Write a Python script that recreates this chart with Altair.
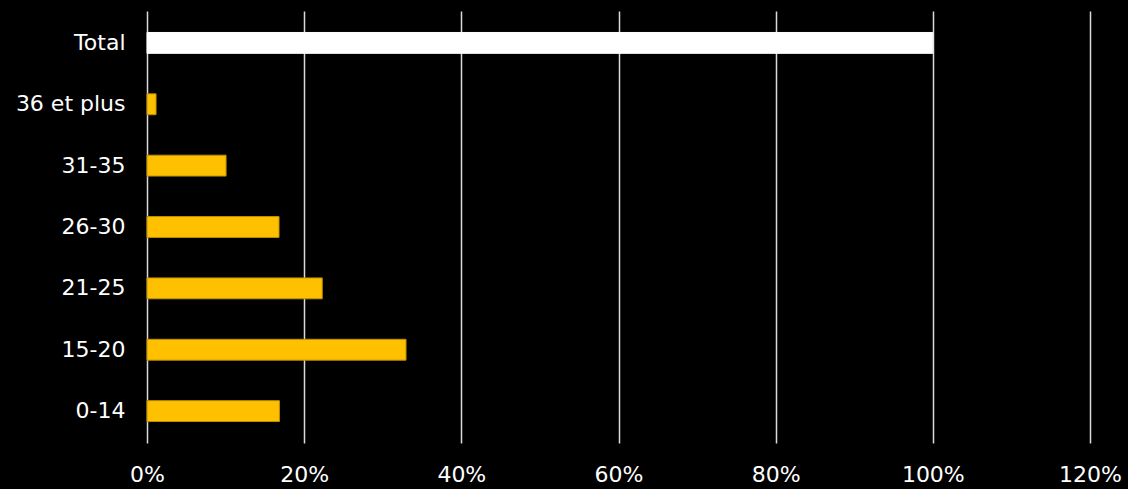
import altair as alt
import pandas as pd

categories = ["Total", "36 et plus", "31-35", "26-30", "21-25", "15-20", "0-14"]
values = [1.0, 0.0115, 0.1006, 0.168, 0.223, 0.3296, 0.1685]
colors = ["#FFFFFF", "#FFC000", "#FFC000", "#FFC000", "#FFC000", "#FFC000", "#FFC000"]
strokes = ["#FFFFFF", "#BF9000", "#BF9000", "#BF9000", "#BF9000", "#BF9000", "#BF9000"]

df = pd.DataFrame({"cat": categories, "val": values, "color": colors, "stroke": strokes})

FONT = "DejaVu Sans"

# make the page background black too (the reference is black to its edges)
try:
    from altair.utils.html import HTML_TEMPLATE
    _orig_render = HTML_TEMPLATE.render

    def _render(*a, **k):
        html = _orig_render(*a, **k)
        return html.replace(
            "<head>",
            "<head>\n<style>html, body { background: #000; margin: 0; overflow: hidden; }</style>",
            1,
        )

    HTML_TEMPLATE.render = _render
    PAD_L, PAD_T = 147, 11
except Exception:
    PAD_L, PAD_T = 139, 3

chart = alt.Chart(df).mark_bar(strokeWidth=1).encode(
    y=alt.Y("cat:N", sort=categories,
            scale=alt.Scale(paddingInner=0.66, paddingOuter=0.35),
            axis=alt.Axis(title=None, labelColor="white", labelFontSize=22,
                          labelFont=FONT, labelPadding=22, ticks=False,
                          domain=False, grid=False)),
    x=alt.X("val:Q", scale=alt.Scale(domain=[0, 1.2], nice=False),
            axis=alt.Axis(title=None, format=".0%", values=[0, 0.2, 0.4, 0.6, 0.8, 1.0, 1.2],
                          labelColor="white", labelFontSize=22, labelFont=FONT,
                          labelPadding=21, labelFlush=False, ticks=False, domain=False,
                          grid=True, gridColor="#D9D9D9", gridWidth=1.5,
                          gridOpacity=1)),
    color=alt.Color("color:N", scale=None),
    stroke=alt.Stroke("stroke:N", scale=None),
).properties(
    width=943,
    height=432,
    background="black",
    padding={"left": PAD_L, "top": PAD_T, "right": 36, "bottom": 44},
    autosize=alt.AutoSizeParams(type="none"),
).configure_view(stroke=None)

chart.save("out.html", embed_options={"renderer": "svg", "actions": False})
